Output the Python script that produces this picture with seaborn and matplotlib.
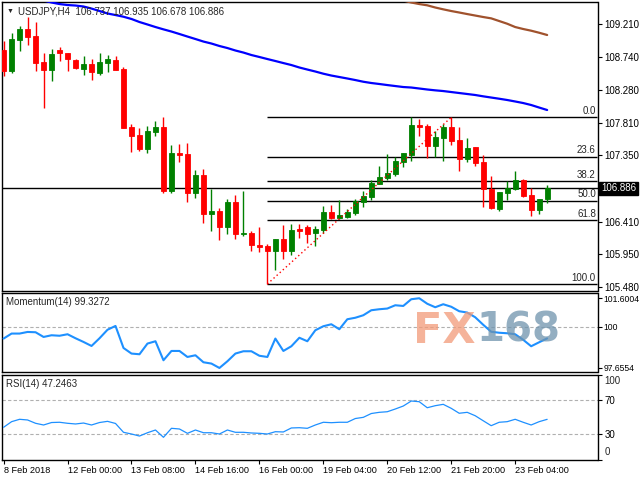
import numpy as np
import pandas as pd
import seaborn as sns
import matplotlib
matplotlib.use("Agg")
import matplotlib.pyplot as plt
import matplotlib.transforms as mtransforms

# USDJPY H4 candles, one value per bar (bar 0 = 8 Feb 16:00)
opens = [108.846, 108.548, 108.992, 109.144, 109.044, 108.676, 108.562, 108.846, 108.803, 108.704,
         108.576, 108.647, 108.524, 108.666, 108.704, 108.576, 107.754, 107.640, 107.442, 107.687,
         107.754, 106.850, 107.389, 107.371, 106.822, 107.073, 106.524, 106.562, 106.340, 106.690,
         106.236, 106.250, 106.084, 106.070, 105.999, 106.165, 105.999, 106.307, 106.335, 106.255,
         106.297, 106.548, 106.467, 106.482, 106.538, 106.694, 106.765, 106.950, 107.030, 107.087,
         107.257, 107.357, 107.782, 107.768, 107.489, 107.602, 107.754, 107.569, 107.304, 107.470,
         107.257, 106.870, 106.595, 106.822, 106.870, 107.002, 106.789, 106.581, 106.737]
highs = [108.978, 109.091, 109.186, 109.318, 109.243, 108.799, 108.860, 108.893, 108.803, 108.714,
         108.761, 108.714, 108.808, 108.779, 108.761, 108.600, 107.803, 107.735, 107.768, 107.839,
         107.890, 107.498, 107.513, 107.527, 107.144, 107.158, 106.870, 106.609, 106.733, 106.789,
         106.846, 106.279, 106.340, 106.094, 106.165, 106.364, 106.378, 106.378, 106.364, 106.350,
         106.633, 106.647, 106.718, 106.591, 106.733, 106.846, 107.002, 107.201, 107.371, 107.333,
         107.385, 107.891, 107.867, 107.796, 107.697, 107.796, 107.891, 107.754, 107.598, 107.470,
         107.357, 107.059, 106.828, 106.984, 107.134, 107.016, 106.889, 106.733, 106.935]
lows = [108.477, 108.524, 108.836, 108.917, 108.552, 108.027, 108.410, 108.694, 108.552, 108.572,
        108.496, 108.420, 108.496, 108.538, 108.562, 107.744, 107.403, 107.418, 107.389, 107.630,
        106.822, 106.822, 107.262, 106.694, 106.751, 106.396, 106.283, 106.151, 106.236, 106.170,
        106.212, 105.999, 105.985, 105.527, 105.726, 105.882, 105.938, 106.184, 106.113, 106.070,
        106.246, 106.449, 106.445, 106.467, 106.510, 106.623, 106.718, 106.945, 107.002, 107.059,
        107.191, 107.272, 107.626, 107.318, 107.324, 107.272, 107.503, 107.134, 107.257, 107.205,
        106.623, 106.595, 106.567, 106.718, 106.856, 106.761, 106.496, 106.524, 106.678]
closes = [108.548, 109.002, 109.144, 109.034, 108.666, 108.562, 108.789, 108.799, 108.718, 108.595,
          108.647, 108.538, 108.676, 108.718, 108.562, 107.744, 107.630, 107.442, 107.697, 107.754,
          106.850, 107.389, 107.361, 106.822, 107.073, 106.524, 106.562, 106.340, 106.690, 106.236,
          106.255, 106.084, 106.056, 105.999, 106.165, 105.999, 106.293, 106.279, 106.240, 106.307,
          106.548, 106.467, 106.506, 106.548, 106.708, 106.775, 106.959, 107.045, 107.101, 107.272,
          107.385, 107.782, 107.758, 107.489, 107.612, 107.754, 107.559, 107.304, 107.452, 107.247,
          106.870, 106.609, 106.828, 106.889, 107.002, 106.771, 106.581, 106.733, 106.886]

# moving averages (blue for every bar, brown from bar 48 on)
ma_blue = [109.711, 109.676, 109.640, 109.612, 109.576, 109.548, 109.520, 109.498, 109.484, 109.477,
           109.463, 109.434, 109.399, 109.364, 109.342, 109.318, 109.286, 109.243, 109.208, 109.172,
           109.139, 109.108, 109.073, 109.037, 109.002, 108.966, 108.938, 108.903, 108.874, 108.839,
           108.810, 108.775, 108.747, 108.718, 108.690, 108.661, 108.633, 108.598, 108.569, 108.541,
           108.510, 108.484, 108.463, 108.442, 108.420, 108.396, 108.378, 108.364, 108.349, 108.335,
           108.321, 108.314, 108.300, 108.286, 108.274, 108.264, 108.250, 108.236, 108.222, 108.208,
           108.189, 108.172, 108.155, 108.137, 108.116, 108.094, 108.066, 108.030, 107.995]
ma_brown_start = 48
ma_brown = [109.605, 109.576, 109.548, 109.520, 109.498, 109.480, 109.449, 109.423, 109.399, 109.378,
            109.356, 109.335, 109.314, 109.295, 109.257, 109.219, 109.172, 109.144, 109.120, 109.091,
            109.059]

momentum = [99.319, 99.602, 99.602, 99.693, 99.676, 99.410, 99.506, 99.478, 99.563, 99.336,
            99.127, 98.900, 99.336, 99.818, 100.033, 98.787, 98.470, 98.431, 99.036, 99.167,
            98.091, 98.618, 98.618, 98.278, 98.374, 97.978, 97.904, 97.6554, 98.035, 98.470,
            98.601, 98.601, 98.346, 98.278, 99.319, 98.618, 98.884, 99.365, 99.167, 99.789,
            100.016, 100.129, 99.846, 100.412, 100.497, 100.638, 100.921, 100.978, 101.017, 101.204,
            101.164, 101.544, 101.6004, 101.289, 101.091, 101.261, 101.119, 100.865, 100.791, 100.525,
            100.100, 99.704, 99.648, 99.619, 99.563, 99.251, 98.884, 99.110, 99.3272]

rsi = [37.9, 44.5, 47.3, 46.5, 42.6, 40.6, 43.5, 43.8, 42.6, 41.8,
       42.9, 40.6, 43.5, 44.9, 42.4, 32.0, 30.0, 27.6, 31.5, 34.7,
       26.1, 36.7, 35.9, 30.8, 34.7, 31.5, 31.5, 30.0, 34.7, 32.0,
       32.0, 31.2, 30.8, 30.0, 32.7, 32.4, 37.1, 37.4, 36.7, 40.6,
       43.8, 43.3, 43.8, 43.8, 48.2, 49.6, 54.1, 55.5, 56.2, 59.4,
       62.9, 68.8, 68.0, 60.9, 63.3, 64.9, 60.2, 54.4, 55.5, 51.5,
       45.6, 39.8, 43.8, 44.5, 47.3, 43.8, 40.6, 44.5, 47.2463]

price_ticks = [109.210, 108.740, 108.280, 107.810, 107.350, 106.410, 105.950, 105.480]
date_ticks = [0, 8, 16, 24, 32, 40, 48, 56, 64]
date_labels = ["8 Feb 2018", "12 Feb 00:00", "13 Feb 08:00", "14 Feb 16:00", "16 Feb 00:00",
               "19 Feb 04:00", "20 Feb 12:00", "21 Feb 20:00", "23 Feb 04:00"]
fib_ratios = [0.0, 23.6, 38.2, 50.0, 61.8, 100.0]
fib_low_bar, fib_high_bar = 33, 56
last_price = 106.886
mom_ticks = [101.6004, 100, 97.6554]
rsi_ticks = [0, 30, 70, 100]

df = pd.DataFrame({"bar": np.arange(len(opens)), "open": opens, "high": highs,
                   "low": lows, "close": closes, "ma": ma_blue,
                   "mom": momentum, "rsi": rsi})
brown = pd.DataFrame({"bar": np.arange(ma_brown_start, ma_brown_start + len(ma_brown)),
                      "ma": ma_brown})

sns.set_style("white")
plt.rcParams["font.family"] = ["Liberation Sans", "DejaVu Sans"]
plt.rcParams["font.size"] = 6.5

fig = plt.figure(figsize=(6.4, 4.8), dpi=100)
W, H = 640, 480
left, width = 2 / W, 595.5 / W
ax = fig.add_axes([left, 1 - 290.5 / H, width, 288.5 / H])
ax_m = fig.add_axes([left, 1 - 372.3 / H, width, 79 / H], sharex=ax)
ax_r = fig.add_axes([left, 1 - 459.5 / H, width, 85 / H], sharex=ax)

# candles
up = df["close"] >= df["open"]
cols = np.where(up, "#008000", "#ff0000")
ax.vlines(df["bar"], df["low"], df["high"], colors=cols, lw=1, zorder=3)
body_lo = np.minimum(df["open"], df["close"])
body_h = (df["close"] - df["open"]).abs()
ax.bar(df["bar"], body_h, bottom=body_lo, width=0.62, color=cols,
       edgecolor=cols, linewidth=0.6, zorder=4)

sns.lineplot(data=df, x="bar", y="ma", ax=ax, color="#0000ff", lw=1.6, zorder=5)
sns.lineplot(data=brown, x="bar", y="ma", ax=ax, color="#a0522d", lw=1.6, zorder=5)

ax.set_xlim(-0.2, 74.3)
ax.set_ylim(105.435, 109.527)
xmax = ax.get_xlim()[1]

# fibonacci retracement
fib_hi = highs[fib_high_bar]
fib_lo = lows[fib_low_bar]
for r in fib_ratios:
    lvl = fib_hi - r / 100 * (fib_hi - fib_lo)
    ax.hlines(lvl, fib_low_bar, xmax, color="black", lw=1, zorder=2)
    ax.text(xmax - 0.2, lvl + 0.02, f"{r:.1f}", ha="right", va="bottom", fontsize=7)
ax.plot([fib_low_bar, fib_high_bar], [fib_lo, fib_hi], color="red", lw=1,
        ls=(0, (1, 2)), zorder=6)

ax.axhline(last_price, color="black", lw=1, zorder=2)
trans = mtransforms.blended_transform_factory(ax.transAxes, ax.transData)
ax.text(1.006, last_price, f"{last_price:.3f}", transform=trans, color="white",
        ha="left", va="center", fontsize=7, clip_on=False,
        bbox=dict(fc="black", ec="black", pad=1.2))

# momentum panel
sns.lineplot(data=df, x="bar", y="mom", ax=ax_m, color="#1e90ff", lw=1.5, zorder=3)
ax_m.axhline(100, color="#b0b0b0", lw=0.8, ls=(0, (3, 2)), zorder=1)
ax_m.set_ylim(97.41, 101.88)
ax_m.set_yticks(mom_ticks)
ax_m.set_yticklabels(["101.6004", "100", "97.6554"])

# RSI panel
sns.lineplot(data=df, x="bar", y="rsi", ax=ax_r, color="#1e90ff", lw=0.9, zorder=3)
for lvl in (70, 30):
    ax_r.axhline(lvl, color="#b0b0b0", lw=0.8, ls=(0, (3, 2)), zorder=1)
ax_r.set_ylim(0, 100)
ax_r.set_yticks(rsi_ticks)
ax_r.set_yticklabels(["", "30", "70", ""])
rtrans = mtransforms.blended_transform_factory(ax_r.transAxes, ax_r.transData)
ax_r.text(1.012, 92, "100", transform=rtrans, ha="left", va="center",
          fontsize=7, clip_on=False)
ax_r.text(1.012, 8.5, "0", transform=rtrans, ha="left", va="center",
          fontsize=7, clip_on=False)

ax.set_yticks(price_ticks)
ax.set_yticklabels([f"{p:.3f}" for p in price_ticks])

for a in (ax, ax_m, ax_r):
    a.set_xlabel("")
    a.set_ylabel("")
    a.yaxis.tick_right()
    a.tick_params(axis="y", direction="out", length=3, width=0.8, pad=2,
                  labelsize=7, colors="black", right=True, left=False)
    for s in a.spines.values():
        s.set_color("black")
        s.set_linewidth(1)
ax_m.tick_params(axis="y", labelsize=6.2, pad=1.5)

ax.tick_params(axis="x", bottom=False, labelbottom=False)
ax_m.tick_params(axis="x", bottom=False, labelbottom=False)
ax_r.set_xticks(date_ticks)
ax_r.set_xticklabels(date_labels)
ax_r.tick_params(axis="x", direction="out", length=3, width=0.8, pad=2,
                 labelsize=6.6, bottom=True, colors="black")
for lab in ax_r.get_xticklabels():
    lab.set_ha("left")

# panel captions
fig.text(10 / W, 1 - 11 / H, "\u25bc", fontsize=5, va="center", ha="center")
fig.text(18 / W, 1 - 11 / H, "USDJPY,H4  106.737 106.935 106.678 106.886",
         fontsize=7, va="center", ha="left")
fig.text(6 / W, 1 - 302 / H, "Momentum(14) 99.3272", fontsize=7, va="center")
fig.text(6 / W, 1 - 384 / H, "RSI(14) 47.2463", fontsize=7, va="center")

# watermark
fig.text(413 / W, 1 - 331 / H, "FX", fontsize=31, fontweight="bold",
         family="DejaVu Sans", color="#f29a78", alpha=0.75, va="center", ha="left")
fig.text(476 / W, 1 - 331 / H, "168", fontsize=29, fontweight="bold",
         family="DejaVu Sans", color="#6f93ad", alpha=0.75, va="center", ha="left")

fig.savefig("out.png", dpi=100)
